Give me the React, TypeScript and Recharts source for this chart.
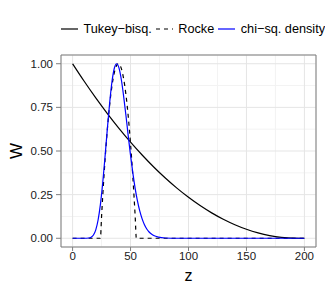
import {
  LineChart,
  Line,
  XAxis,
  YAxis,
  CartesianGrid,
  Legend,
  ReferenceArea,
} from "recharts";

const FONT = '"Liberation Sans", Arial, Helvetica, sans-serif';

// axis breaks
const zTicks = [0, 50, 100, 150, 200];
const wTicks = [0, 0.25, 0.5, 0.75, 1];
const zMinor = [25, 75, 125, 175];
const wMinor = [0.125, 0.375, 0.625, 0.875];

// Tukey biweight weights
const tukeyZ = [0, 10, 20, 30, 40, 50, 60, 70, 80, 90, 100, 110, 120, 130, 140, 150, 160, 170, 180, 190, 200];
const tukeyW = [1, 0.8996, 0.8044, 0.7146, 0.6301, 0.551, 0.4771, 0.4085, 0.3453, 0.2874, 0.2348, 0.1875, 0.1455, 0.1088, 0.0775, 0.0514, 0.0307, 0.0153, 0.0052, 0.0004, 0];

// Rocke weights
const rockeZ = [0, 24, 25, 26, 28, 30, 32, 34, 36, 38, 39.5, 41, 43, 45, 47, 49, 51, 53, 54, 55, 200];
const rockeW = [0, 0, 0.125, 0.2414, 0.4495, 0.6243, 0.7659, 0.8741, 0.949, 0.9906, 1, 0.9906, 0.949, 0.8741, 0.7659, 0.6243, 0.4495, 0.2414, 0.125, 0, 0];

// scaled chi-squared density
const chiZ = [0, 10, 14, 16, 18, 20, 22, 24, 26, 28, 30, 32, 34, 36, 38, 40, 42, 44, 46, 48, 50, 52, 54, 56, 58, 60, 62, 64, 66, 68, 70, 74, 80, 90, 120, 160, 200];
const chiW = [0, 0, 0.0014, 0.0058, 0.0188, 0.0484, 0.1046, 0.194, 0.318, 0.468, 0.628, 0.777, 0.898, 0.974, 1, 0.976, 0.911, 0.816, 0.705, 0.587, 0.475, 0.373, 0.285, 0.213, 0.155, 0.111, 0.0776, 0.0533, 0.0359, 0.0239, 0.0156, 0.0064, 0.0015, 0, 0, 0, 0];

const toRows = (zs: number[], ws: number[]) => zs.map((z, i) => ({ z, w: ws[i] }));

const tukeyData = toRows(tukeyZ, tukeyW);
const rockeData = toRows(rockeZ, rockeW);
const chiData = toRows(chiZ, chiW);

const legendItems = [
  { label: "Tukey\u2212bisq.", color: "#000000", dash: undefined as string | undefined },
  { label: "Rocke", color: "#000000", dash: "4 4" },
  { label: "chi\u2212sq. density", color: "#0000FF", dash: undefined },
];

function renderLegend() {
  return (
    <div style={{ display: "flex", alignItems: "center", fontFamily: FONT, fontSize: 12.7, color: "#000", whiteSpace: "nowrap" }}>
      {legendItems.map((it) => (
        <div key={it.label} style={{ display: "flex", alignItems: "center", marginRight: 4 }}>
          <svg width={17} height={10} style={{ marginRight: 5.5 }}>
            <line x1={0} y1={5} x2={17} y2={5} stroke={it.color} strokeWidth={1.2} strokeDasharray={it.dash} />
          </svg>
          <span>{it.label}</span>
        </div>
      ))}
    </div>
  );
}

const tickStyle = { fill: "#1A1A1A", fontSize: 11.5, fontFamily: FONT };

export default function App() {
  return (
    <div style={{ position: "absolute", left: 0, top: 0, width: 325, height: 293, background: "#fff", fontFamily: FONT }}>
      <LineChart width={325} height={293} margin={{ top: 55, right: 9, bottom: 23, left: 0 }}>
        <CartesianGrid stroke="#F3F3F3" verticalValues={zMinor} horizontalValues={wMinor} />
        <CartesianGrid stroke="#E5E5E5" />
        <XAxis
          type="number"
          dataKey="z"
          domain={[-10, 210]}
          ticks={zTicks}
          allowDataOverflow
          axisLine={false}
          tickSize={4}
          tickMargin={1}
          tickLine={{ stroke: "#7F7F7F" }}
          tick={tickStyle}
          height={23}
          label={{ value: "z", position: "bottom", offset: 0, fontSize: 16, fill: "#000", fontFamily: FONT }}
        />
        <YAxis
          type="number"
          dataKey="w"
          domain={[-0.05, 1.05]}
          ticks={wTicks}
          allowDataOverflow
          axisLine={false}
          width={61}
          tickSize={5}
          tickMargin={3}
          tickLine={{ stroke: "#7F7F7F" }}
          tick={tickStyle}
          tickFormatter={(v: number) => v.toFixed(2)}
          label={{
            content: ({ viewBox }: any) => (
              <text
                x={16}
                y={viewBox.y + viewBox.height / 2}
                transform={`rotate(-90 16 ${viewBox.y + viewBox.height / 2})`}
                textAnchor="middle"
                dominantBaseline="central"
                fontSize={17}
                fontFamily={FONT}
                fill="#000"
              >
                W
              </text>
            ),
          }}
        />
        <Legend
          verticalAlign="middle"
          content={renderLegend}
          wrapperStyle={{ top: 22, left: 61, width: 264 }}
        />
        <Line data={tukeyData} dataKey="w" type="monotone" stroke="#000000" strokeWidth={1.2} dot={false} isAnimationActive={false} />
        <Line data={rockeData} dataKey="w" type="monotone" stroke="#000000" strokeWidth={1.2} strokeDasharray="4 4" dot={false} isAnimationActive={false} />
        <Line data={chiData} dataKey="w" type="monotone" stroke="#0000FF" strokeWidth={1.2} dot={false} isAnimationActive={false} />
        <ReferenceArea x1={-10} x2={210} y1={-0.05} y2={1.05} fill="none" stroke="#7F7F7F" strokeWidth={1} ifOverflow="visible" />
      </LineChart>
    </div>
  );
}
